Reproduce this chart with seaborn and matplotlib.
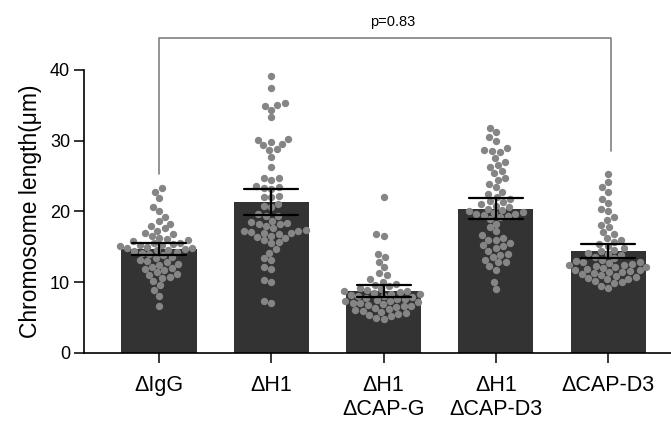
import numpy as np
import pandas as pd
import seaborn as sns
import matplotlib.pyplot as plt

# chromosome lengths (um), one list per condition
igg = [23.3, 22.8, 21.9, 20.6, 20.0, 19.2, 18.6, 18.3, 17.9, 17.6, 17.3, 17.0,
       16.8, 16.5, 16.3, 16.1, 15.9, 15.8, 15.6, 15.5, 15.4, 15.3, 15.2, 15.1,
       15.0, 14.9, 14.8, 14.7, 14.6, 14.5, 14.4, 14.3, 14.2, 14.0, 13.8, 13.6,
       13.4, 13.2, 13.0, 12.8, 12.6, 12.5, 12.2, 12.0, 11.9, 11.7, 11.4, 11.2,
       11.0, 10.8, 10.6, 10.2, 9.6, 8.9, 8.1, 6.6]
h1 = [39.2, 37.4, 35.3, 35.1, 34.9, 34.4, 33.3, 30.3, 30.1, 29.8, 29.6, 29.4,
      28.9, 28.7, 27.7, 26.3, 24.8, 24.7, 24.5, 23.6, 23.5, 23.3, 23.2, 22.2,
      22.1, 22.0, 21.0, 20.8, 20.6, 19.6, 19.4, 19.3, 18.7, 18.5, 18.4, 18.3,
      18.2, 18.0, 17.6, 17.4, 17.3, 17.2, 17.1, 17.0, 16.9, 16.8, 16.6, 16.4,
      16.2, 15.9, 15.7, 15.5, 14.7, 14.2, 13.4, 13.2, 12.1, 11.9, 10.3, 10.0,
      7.3, 7.0]
h1_capg = [22.1, 16.8, 16.5, 14.0, 13.6, 12.9, 12.1, 11.3, 11.0, 10.4, 10.1,
           9.8, 9.6, 9.4, 9.2, 9.0, 8.9, 8.8, 8.7, 8.6, 8.5, 8.4, 8.3, 8.2,
           8.1, 8.0, 7.9, 7.8, 7.7, 7.6, 7.5, 7.4, 7.3, 7.2, 7.1, 7.0, 6.9,
           6.8, 6.7, 6.6, 6.5, 6.4, 6.2, 6.1, 6.0, 5.8, 5.6, 5.5, 5.4, 5.2,
           5.0, 4.8]
h1_capd3 = [31.8, 31.2, 30.5, 30.0, 29.0, 28.7, 28.5, 28.4, 27.6, 27.0, 26.6,
            26.3, 25.7, 25.4, 24.8, 24.5, 23.9, 23.5, 22.8, 22.5, 22.1, 21.8,
            21.5, 21.3, 21.0, 20.8, 20.6, 20.4, 20.2, 20.1, 19.9, 19.8, 19.7,
            19.6, 19.5, 19.4, 19.2, 18.9, 18.3, 17.8, 17.2, 16.7, 16.3, 16.0,
            15.9, 15.5, 15.2, 15.1, 14.8, 14.4, 14.0, 13.9, 13.6, 13.2, 12.9,
            12.8, 12.3, 11.8, 10.0, 9.0]
capd3 = [25.3, 24.2, 23.4, 22.8, 21.8, 21.2, 20.4, 20.0, 19.2, 18.8, 18.1,
         17.8, 17.1, 16.8, 16.2, 16.0, 15.7, 15.4, 15.1, 14.8, 14.6, 14.4,
         14.2, 14.0, 13.8, 13.6, 13.4, 13.2, 13.0, 12.9, 12.8, 12.7, 12.6,
         12.5, 12.4, 12.3, 12.2, 12.1, 12.0, 11.9, 11.8, 11.7, 11.6, 11.5,
         11.4, 11.3, 11.2, 11.0, 10.9, 10.8, 10.6, 10.5, 10.4, 10.2, 10.0,
         9.9, 9.5, 9.2]

labels = ["\u0394IgG", "\u0394H1", "\u0394H1\n\u0394CAP-G",
          "\u0394H1\n\u0394CAP-D3", "\u0394CAP-D3"]
groups = [igg, h1, h1_capg, h1_capd3, capd3]

p_text = "p=0.83"

df = pd.DataFrame({
    "group": np.repeat(labels, [len(g) for g in groups]),
    "length": np.concatenate(groups),
})

sns.set_style("ticks")
plt.rcParams["font.family"] = ["Liberation Sans", "DejaVu Sans"]
plt.rcParams.update({"text.color": "black", "axes.labelcolor": "black",
                     "xtick.color": "black", "ytick.color": "black",
                     "axes.edgecolor": "black"})

fig = plt.figure(figsize=(6.71, 4.26), dpi=100)
ax = fig.add_axes([0.1252, 0.1714, 0.8748, 0.6643])

sns.barplot(data=df, x="group", y="length", order=labels, color="#333333",
            saturation=1, width=0.67, errorbar=("ci", 95), seed=0,
            capsize=0.48, err_kws={"color": "black", "linewidth": 1.6, "zorder": 5},
            linewidth=0, ax=ax)
sns.swarmplot(data=df, x="group", y="length", order=labels, color="#858585",
              size=5.3, linewidth=0, ax=ax, zorder=3, warn_thresh=1)

# significance bracket between first and last group
bx0, bx1 = 0, 4.03
ax.plot([bx0, bx0, bx1, bx1], [25.3, 44.5, 44.5, 28.5], color="#808080",
        linewidth=1.2, clip_on=False)
ax.text(2.08, 45.8, p_text, ha="center", va="bottom", fontsize=10.5)

ax.set_xlim(-0.668, 4.56)
ax.set_ylim(0, 40)
ax.set_yticks([0, 10, 20, 30, 40])
ax.set_xlabel("")
ax.set_ylabel("Chromosome length(\u03bcm)", fontsize=16.5, labelpad=6)
ax.tick_params(axis="y", labelsize=13, length=7, width=1.1, pad=3)
ax.tick_params(axis="x", labelsize=15.5, length=7, width=1.1, pad=9)
for side in ["left", "bottom"]:
    ax.spines[side].set_linewidth(1.2)
sns.despine(ax=ax)

fig.savefig("out.png", dpi=100)
